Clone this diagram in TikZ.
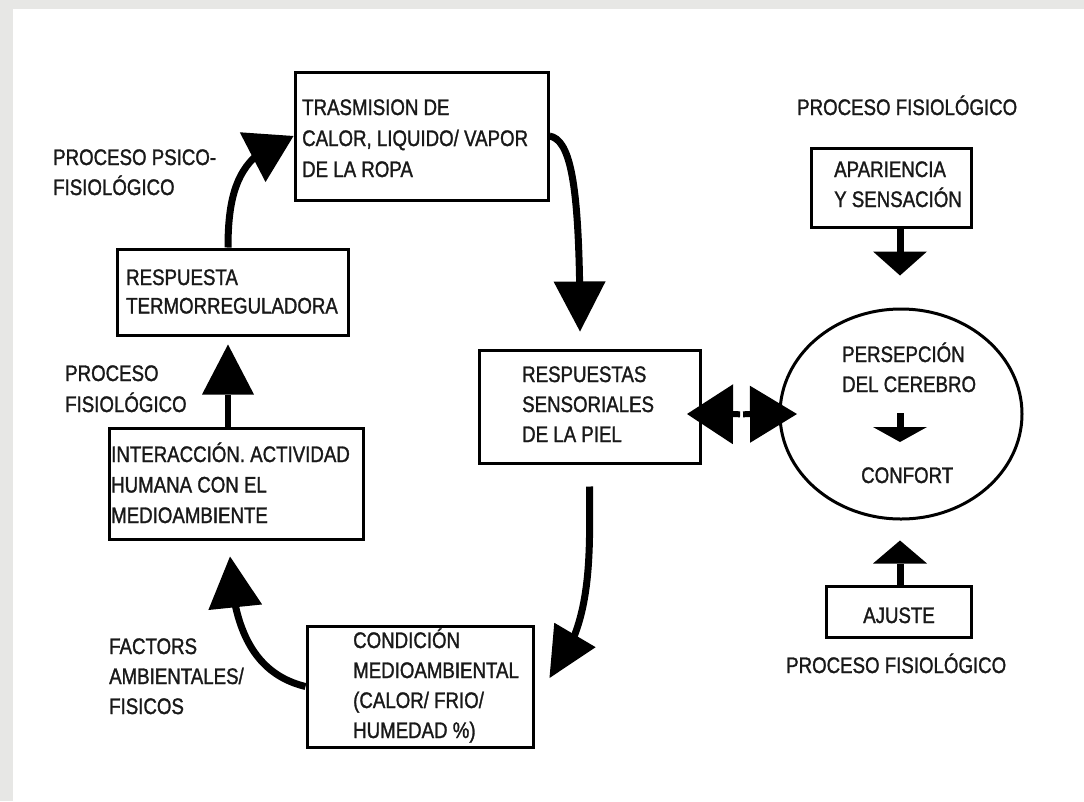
\documentclass[tikz,border=0pt]{standalone}
\usepackage{fontspec}
\setmainfont{Liberation Sans}[FakeStretch=0.83,FakeBold=1.3]
\usetikzlibrary{arrows.meta,bending,calc,shapes.geometric}
\definecolor{framegray}{RGB}{231,231,229}
\newcommand\mylines[2][30pt]{\vtop{\baselineskip=#1\lineskiplimit=-\maxdimen\halign{##\hfil\cr#2\crcr}}}
\tikzset{
  box/.style={draw=black, line width=3pt, inner sep=0pt, rectangle},
  txt/.style={anchor=base west, inner sep=0pt, font=\fontsize{22.5}{30}\selectfont, text=black!90},
  shaft/.style={draw=black, line width=7pt},
}
\begin{document}
\begin{tikzpicture}[x=1pt,y=-1pt]
\useasboundingbox (0,0) rectangle (1084,801);
\fill[framegray] (0,0) rectangle (1084,801);
\fill[white] (13,9) rectangle (1084,801);

% boxes
\node[box, minimum width=253pt, minimum height=128pt] (A) at (421.5,136) {};
\node[box, minimum width=231pt, minimum height=86pt] (B) at (232.5,292) {};
\node[box, minimum width=254pt, minimum height=111pt] (C) at (236,483.5) {};
\node[box, minimum width=221pt, minimum height=113pt] (D) at (589.5,406.5) {};
\node[box, minimum width=226pt, minimum height=121pt] (E) at (420,686.5) {};
\node[box, minimum width=160pt, minimum height=79pt] (F) at (891,187.5) {};
\node[box, minimum width=145pt, minimum height=51pt] (G) at (898.5,611.5) {};
\node[draw=black, line width=3pt, ellipse, inner sep=0pt, minimum width=242pt, minimum height=210pt] (P) at (901,414) {};

% texts in boxes
\node[txt] (tA) at (302,115) {\mylines[31pt]{TRASMISION DE\cr CALOR, LIQUIDO/ VAPOR\cr DE LA ROPA}};
\node[txt] (tB) at (126,285) {\mylines[28.5pt]{RESPUESTA\cr TERMORREGULADORA}};
\node[txt] (tC) at (111,462) {\mylines[30.5pt]{INTERACCIÓN. ACTIVIDAD\cr HUMANA CON EL\cr MEDIOAMBIENTE}};
\node[txt] (tD) at (522,382) {\mylines[30pt]{RESPUESTAS\cr SENSORIALES\cr DE LA PIEL}};
\node[txt] (tE) at (353,648) {\mylines[30pt]{CONDICIÓN\cr MEDIOAMBIENTAL\cr (CALOR/ FRIO/\cr HUMEDAD \%)}};
\node[txt] (tF) at (834,177) {\mylines[30pt]{APARIENCIA\cr Y SENSACIÓN}};
\node[txt] (tG) at (863,623) {AJUSTE};
\node[txt] (tP1) at (842,362) {\mylines[30pt]{PERSEPCIÓN\cr DEL CEREBRO}};
\node[txt] (tP2) at (861,483) {CONFORT};

% free labels
\node[txt] (l1) at (797,115) {PROCESO FISIOLÓGICO};
\node[txt] (l2) at (53,165) {\mylines[30pt]{PROCESO PSICO-\cr FISIOLÓGICO}};
\node[txt] (l3) at (65,381) {\mylines[31pt]{PROCESO\cr FISIOLÓGICO}};
\node[txt] (l4) at (109,654) {\mylines[30pt]{FACTORS\cr AMBIENTALES/\cr FISICOS}};
\node[txt] (l5) at (786,673) {PROCESO FISIOLÓGICO};

% curved cycle arrows
\draw[shaft, -{Triangle[length=46pt,width=56pt,line width=0pt,flex]}]
  ([xshift=-4.5pt]B.north) .. controls (228,185) and (242,152) .. (A.west);
\draw[shaft, -{Triangle[length=50pt,width=52pt,line width=0pt,flex]}]
  (A.east) .. controls (572,140) and (580,190) .. ([xshift=-9.5pt,yshift=17pt]D.north);
\draw[shaft, -{Triangle[length=50pt,width=48pt,line width=0pt,flex]}]
  ([yshift=-22pt]D.south) .. controls (590,560) and (592,628) .. ([xshift=15pt,yshift=8.5pt]E.east);
\draw[shaft, -{Triangle[length=51pt,width=54pt,line width=0pt,flex]}]
  (E.west) .. controls (262,676) and (232,640) .. ([xshift=-6pt,yshift=-16pt]C.south);
\draw[shaft, line width=6.5pt, -{Triangle[length=50pt,width=52pt,line width=0pt]}]
  ([xshift=-8pt]C.north) -- ([xshift=-4.5pt,yshift=-8pt]B.south);

% double arrow
\coordinate (mid) at ($(D.east)!0.5!(P.west)$);
\draw[shaft, line width=6pt, -{Triangle[length=46pt,width=60pt,line width=0pt]}]
  ([yshift=-4pt]mid) -- ([xshift=-14.5pt,yshift=-7.5pt]D.east);
\draw[shaft, line width=6pt, -{Triangle[length=47pt,width=57pt,line width=0pt]}]
  ([xshift=3pt,yshift=-4pt]mid) -- ([xshift=18.5pt]P.west);

% right column arrows
\draw[shaft, -{Triangle[length=24pt,width=54pt,line width=0pt]}]
  ([xshift=9pt]F.south) -- ([xshift=-1pt,yshift=32pt]P.north);
\draw[shaft, -{Triangle[length=23pt,width=54pt,line width=0pt]}]
  ([xshift=1.5pt]G.north) -- ([xshift=-1pt,yshift=-20pt]P.south);
\draw[shaft, -{Triangle[length=15pt,width=54pt,line width=0pt]}]
  ([xshift=-1pt,yshift=1pt]P.center) -- ([xshift=-1pt,yshift=-28pt]P.center);
\end{tikzpicture}
\end{document}
